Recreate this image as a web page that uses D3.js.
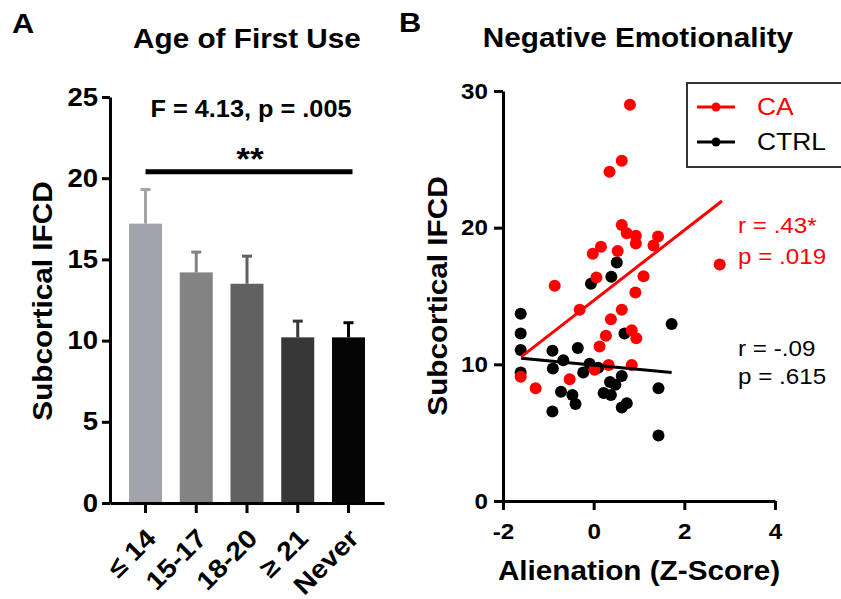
<!DOCTYPE html>
<html>
<head>
<meta charset="utf-8">
<script src="https://cdn.jsdelivr.net/npm/d3@7"></script>
<style>
  body { margin: 0; background: #fff; }
  svg text { font-family: 'Liberation Sans', Arial, sans-serif; }
</style>
</head>
<body>
<script>
// Panel A: age of first use
const ageGroups = ['≤ 14', '15-17', '18-20', '≥ 21', 'Never'];
const meanIFCD = [17.2, 14.2, 13.5, 10.2, 10.2];
const semIFCD = [2.1, 1.25, 1.7, 1.0, 0.9];
const aTicks = [0, 5, 10, 15, 20, 25];

// Panel B: negative emotionality (alienation z-score vs IFCD)
const caPoints = [
    [0.80, 29.0], [0.62, 24.9], [0.35, 24.1], [0.62, 20.2], [0.73, 19.6],
    [0.93, 19.4], [0.93, 18.85], [1.42, 19.35], [1.32, 18.7], [-0.02, 18.1],
    [0.16, 18.6], [0.53, 18.3], [2.78, 17.3], [1.10, 16.45], [0.06, 16.35],
    [-0.86, 15.75], [0.92, 15.25], [-0.31, 14.0], [0.62, 14.0], [0.38, 13.3],
    [0.27, 12.1], [0.84, 12.5], [0.94, 11.9], [0.13, 11.3], [0.33, 9.95],
    [0.84, 9.95], [0.02, 9.6], [-1.61, 9.1], [-1.28, 8.25], [-0.53, 8.9]
];
const ctrlPoints = [
    [0.51, 17.45], [0.39, 16.4], [-0.06, 15.9], [-1.61, 13.7], [-1.61, 12.25],
    [1.72, 12.95], [0.68, 12.25], [-1.61, 11.05], [-1.61, 9.4], [-0.91, 11.0],
    [-0.35, 11.2], [-0.67, 10.3], [-0.90, 9.7], [-0.23, 9.4], [-0.09, 10.05],
    [0.10, 9.75], [0.62, 9.15], [0.48, 8.5], [0.36, 8.7], [0.22, 7.9],
    [0.38, 7.75], [-0.72, 8.0], [-0.47, 7.75], [-0.40, 7.1], [-0.91, 6.55],
    [0.62, 6.85], [0.73, 7.15], [1.43, 8.25], [1.43, 4.8]
];
const caFit = [[-1.6, 10.55], [2.83, 21.95]];
const ctrlFit = [[-1.6, 10.45], [1.72, 9.4]];
const bxTicks = [-2, 0, 2, 4];
const byTicks = [0, 10, 20, 30];

const barColors = ['#a2a2aa', '#838383', '#616161', '#373737', '#050505'];
const RED = '#ff0000';

const svg = d3.select('body').append('svg')
    .attr('width', 841)
    .attr('height', 599);

function styleAxis(g, size) {
    g.selectAll('path, line').attr('stroke', '#000').attr('stroke-width', 3);
    g.selectAll('text')
        .attr('fill', '#000')
        .style('font-size', size + 'px')
        .style('font-weight', 'bold');
}

// ---------- Panel A ----------
const yA = d3.scaleLinear().domain([0, 25]).range([503, 97]);
const xA = d3.scaleBand()
    .domain(ageGroups)
    .range([110, 384])
    .paddingInner(0.35)
    .paddingOuter(0.375);
const colorA = d3.scaleOrdinal(ageGroups, barColors);
const barsA = ageGroups.map((g, i) => ({ group: g, mean: meanIFCD[i], sem: semIFCD[i] }));

svg.selectAll('.bar')
    .data(barsA)
    .enter()
    .append('rect')
    .attr('class', 'bar')
    .attr('x', d => xA(d.group))
    .attr('y', d => yA(d.mean))
    .attr('width', xA.bandwidth())
    .attr('height', d => yA(0) - yA(d.mean))
    .attr('fill', d => colorA(d.group));

// upper error bars
const errA = svg.selectAll('.err')
    .data(barsA)
    .enter()
    .append('g')
    .attr('class', 'err')
    .attr('stroke', d => colorA(d.group))
    .attr('stroke-width', 3);
errA.append('line')
    .attr('x1', d => xA(d.group) + xA.bandwidth() / 2)
    .attr('x2', d => xA(d.group) + xA.bandwidth() / 2)
    .attr('y1', d => yA(d.mean))
    .attr('y2', d => yA(d.mean + d.sem));
errA.append('line')
    .attr('x1', d => xA(d.group) + xA.bandwidth() / 2 - 5)
    .attr('x2', d => xA(d.group) + xA.bandwidth() / 2 + 5)
    .attr('y1', d => yA(d.mean + d.sem))
    .attr('y2', d => yA(d.mean + d.sem));

svg.append('g')
    .attr('transform', 'translate(110,0)')
    .call(d3.axisLeft(yA).tickValues(aTicks).tickSize(8).tickSizeOuter(0).tickPadding(4))
    .call(g => styleAxis(g, 25));

svg.append('g')
    .attr('transform', `translate(0,${yA(0)})`)
    .call(d3.axisBottom(xA).tickSize(10).tickSizeOuter(0))
    .call(g => styleAxis(g, 26))
    .selectAll('text')
    .attr('x', 0)
    .attr('y', 0)
    .attr('dy', 0)
    .attr('text-anchor', 'end')
    .attr('transform', 'translate(12,37) rotate(-45)');

// significance bar
const xMid = g => xA(g) + xA.bandwidth() / 2;
svg.append('line')
    .attr('x1', xMid(ageGroups[0]))
    .attr('x2', xMid(ageGroups[4]) + 4)
    .attr('y1', yA(20.4))
    .attr('y2', yA(20.4))
    .attr('stroke', '#000')
    .attr('stroke-width', 5);
svg.append('text')
    .attr('x', 250)
    .attr('y', 170)
    .attr('text-anchor', 'middle')
    .style('font-size', '32px')
    .style('font-weight', 'bold')
    .text('**');
svg.append('text')
    .attr('x', 251)
    .attr('y', 117)
    .attr('text-anchor', 'middle')
    .style('font-size', '23px')
    .style('font-weight', 'bold')
    .text('F = 4.13, p = .005');

svg.append('text')
    .attr('x', 247)
    .attr('y', 48)
    .attr('text-anchor', 'middle')
    .style('font-size', '27px')
    .style('font-weight', 'bold')
    .text('Age of First Use');
svg.append('text')
    .attr('x', 12)
    .attr('y', 33)
    .style('font-size', '28px')
    .style('font-weight', 'bold')
    .text('A');
svg.append('text')
    .attr('transform', 'translate(52,301) rotate(-90)')
    .attr('text-anchor', 'middle')
    .style('font-size', '27px')
    .style('font-weight', 'bold')
    .text('Subcortical IFCD');

// ---------- Panel B ----------
const xB = d3.scaleLinear().domain([-2, 4]).range([503, 775]);
const yB = d3.scaleLinear().domain([0, 30]).range([501, 91]);

svg.append('g')
    .attr('transform', 'translate(503,0)')
    .call(d3.axisLeft(yB).tickValues(byTicks).tickSize(9).tickSizeOuter(0).tickPadding(6))
    .call(g => styleAxis(g, 22));

svg.append('g')
    .attr('transform', `translate(0,${yB(0)})`)
    .call(d3.axisBottom(xB).tickValues(bxTicks).tickFormat(d => String(d))
        .tickSize(9).tickSizeOuter(0).tickPadding(13))
    .call(g => styleAxis(g, 22));

svg.selectAll('.ctrl')
    .data(ctrlPoints)
    .enter()
    .append('circle')
    .attr('class', 'ctrl')
    .attr('cx', d => xB(d[0]))
    .attr('cy', d => yB(d[1]))
    .attr('r', 6)
    .attr('fill', '#000');

svg.selectAll('.ca')
    .data(caPoints)
    .enter()
    .append('circle')
    .attr('class', 'ca')
    .attr('cx', d => xB(d[0]))
    .attr('cy', d => yB(d[1]))
    .attr('r', 6)
    .attr('fill', RED);

const fitLine = d3.line().x(d => xB(d[0])).y(d => yB(d[1]));
svg.append('path')
    .attr('d', fitLine(ctrlFit))
    .attr('fill', 'none')
    .attr('stroke', '#000')
    .attr('stroke-width', 3);
svg.append('path')
    .attr('d', fitLine(caFit))
    .attr('fill', 'none')
    .attr('stroke', RED)
    .attr('stroke-width', 3);

// legend (box runs off the right edge, as in the figure)
const legend = svg.append('g');
legend.append('rect')
    .attr('x', 687)
    .attr('y', 83)
    .attr('width', 170)
    .attr('height', 84)
    .attr('fill', 'none')
    .attr('stroke', '#333')
    .attr('stroke-width', 2);
[['CA', RED, 107], ['CTRL', '#000', 142]].forEach(([name, col, ly]) => {
    legend.append('line')
        .attr('x1', 697).attr('x2', 735)
        .attr('y1', ly).attr('y2', ly)
        .attr('stroke', col)
        .attr('stroke-width', 3);
    legend.append('circle')
        .attr('cx', 716).attr('cy', ly)
        .attr('r', 4.5)
        .attr('fill', col);
    legend.append('text')
        .attr('x', 757)
        .attr('y', ly + 8)
        .attr('fill', col)
        .style('font-size', '24px')
        .text(name);
});

// correlation notes
[['r = .43*', RED, 233], ['p = .019', RED, 264], ['r = -.09', '#000', 356], ['p = .615', '#000', 384]]
    .forEach(([t, col, ty]) => {
        svg.append('text')
            .attr('x', 738)
            .attr('y', ty)
            .attr('fill', col)
            .style('font-size', '22px')
            .text(t);
    });

svg.append('text')
    .attr('x', 638)
    .attr('y', 47)
    .attr('text-anchor', 'middle')
    .style('font-size', '27px')
    .style('font-weight', 'bold')
    .text('Negative Emotionality');
svg.append('text')
    .attr('x', 399)
    .attr('y', 32)
    .style('font-size', '28px')
    .style('font-weight', 'bold')
    .text('B');
svg.append('text')
    .attr('transform', 'translate(447,296) rotate(-90)')
    .attr('text-anchor', 'middle')
    .style('font-size', '27px')
    .style('font-weight', 'bold')
    .text('Subcortical IFCD');
svg.append('text')
    .attr('x', 639)
    .attr('y', 580)
    .attr('text-anchor', 'middle')
    .style('font-size', '27px')
    .style('font-weight', 'bold')
    .text('Alienation (Z-Score)');

// the figure's lettering is a bit wider than Arial, so widen every label slightly
svg.selectAll('text').each(function () {
    const w = this.getComputedTextLength();
    d3.select(this)
        .attr('textLength', w * 1.1)
        .attr('lengthAdjust', 'spacingAndGlyphs');
});
</script>
</body>
</html>
